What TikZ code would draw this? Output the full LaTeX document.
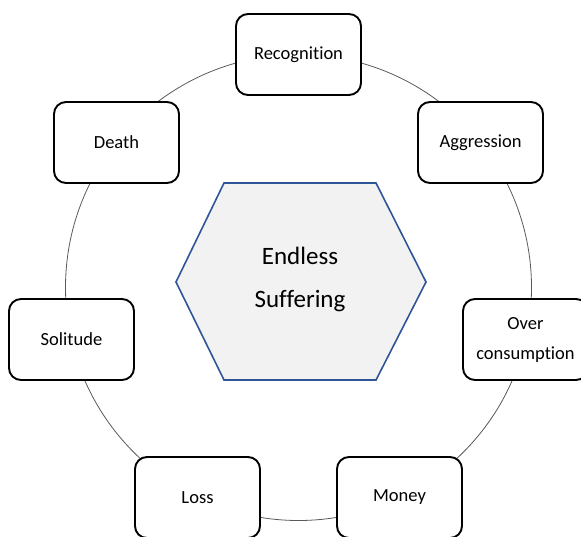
\documentclass[tikz,border=0pt]{standalone}
\usepackage{fontspec}
\setmainfont{Carlito}[Ligatures={NoCommon}]
\definecolor{hexblue}{HTML}{2F5597}
\definecolor{hexfill}{HTML}{F2F2F2}
\definecolor{ringgray}{HTML}{595959}
\begin{document}
\begin{tikzpicture}[x=1pt,y=-1pt,
  stagebox/.style={draw=black, line width=1.9pt, rounded corners=12pt, fill=white,
    minimum width=125pt, minimum height=81pt, inner sep=2pt, align=center,
    font=\fontsize{18.5}{30}\selectfont},
  ring/.style={draw=ringgray, line width=0.8pt},
  hexshape/.style={draw=hexblue, line width=1.6pt, fill=hexfill, line join=miter}]
\useasboundingbox (0,0) rectangle (581,536);
\draw[ring] (298.5,287.5) circle[radius=233];
\draw[hexshape] (224,183) -- (376,183) -- (426,282) -- (376,380) -- (224,380) -- (176,282) -- cycle;
\node[align=center, font=\fontsize{25}{43}\selectfont] (core) at (300,279) {Endless\\Suffering};
\node[stagebox] (recognition) at (298.5,54.5) {Recognition};
\node[stagebox] (aggression) at (480.5,142.5) {Aggression};
\node[stagebox] (overcons) at (525.5,339.5) {Over\\consumption};
\node[stagebox] (money) at (399.5,497.5) {Money};
\node[stagebox] (loss) at (197.5,497.5) {Loss};
\node[stagebox] (solitude) at (71.5,339.5) {Solitude};
\node[stagebox] (death) at (116.5,142.5) {Death};
\end{tikzpicture}
\end{document}
